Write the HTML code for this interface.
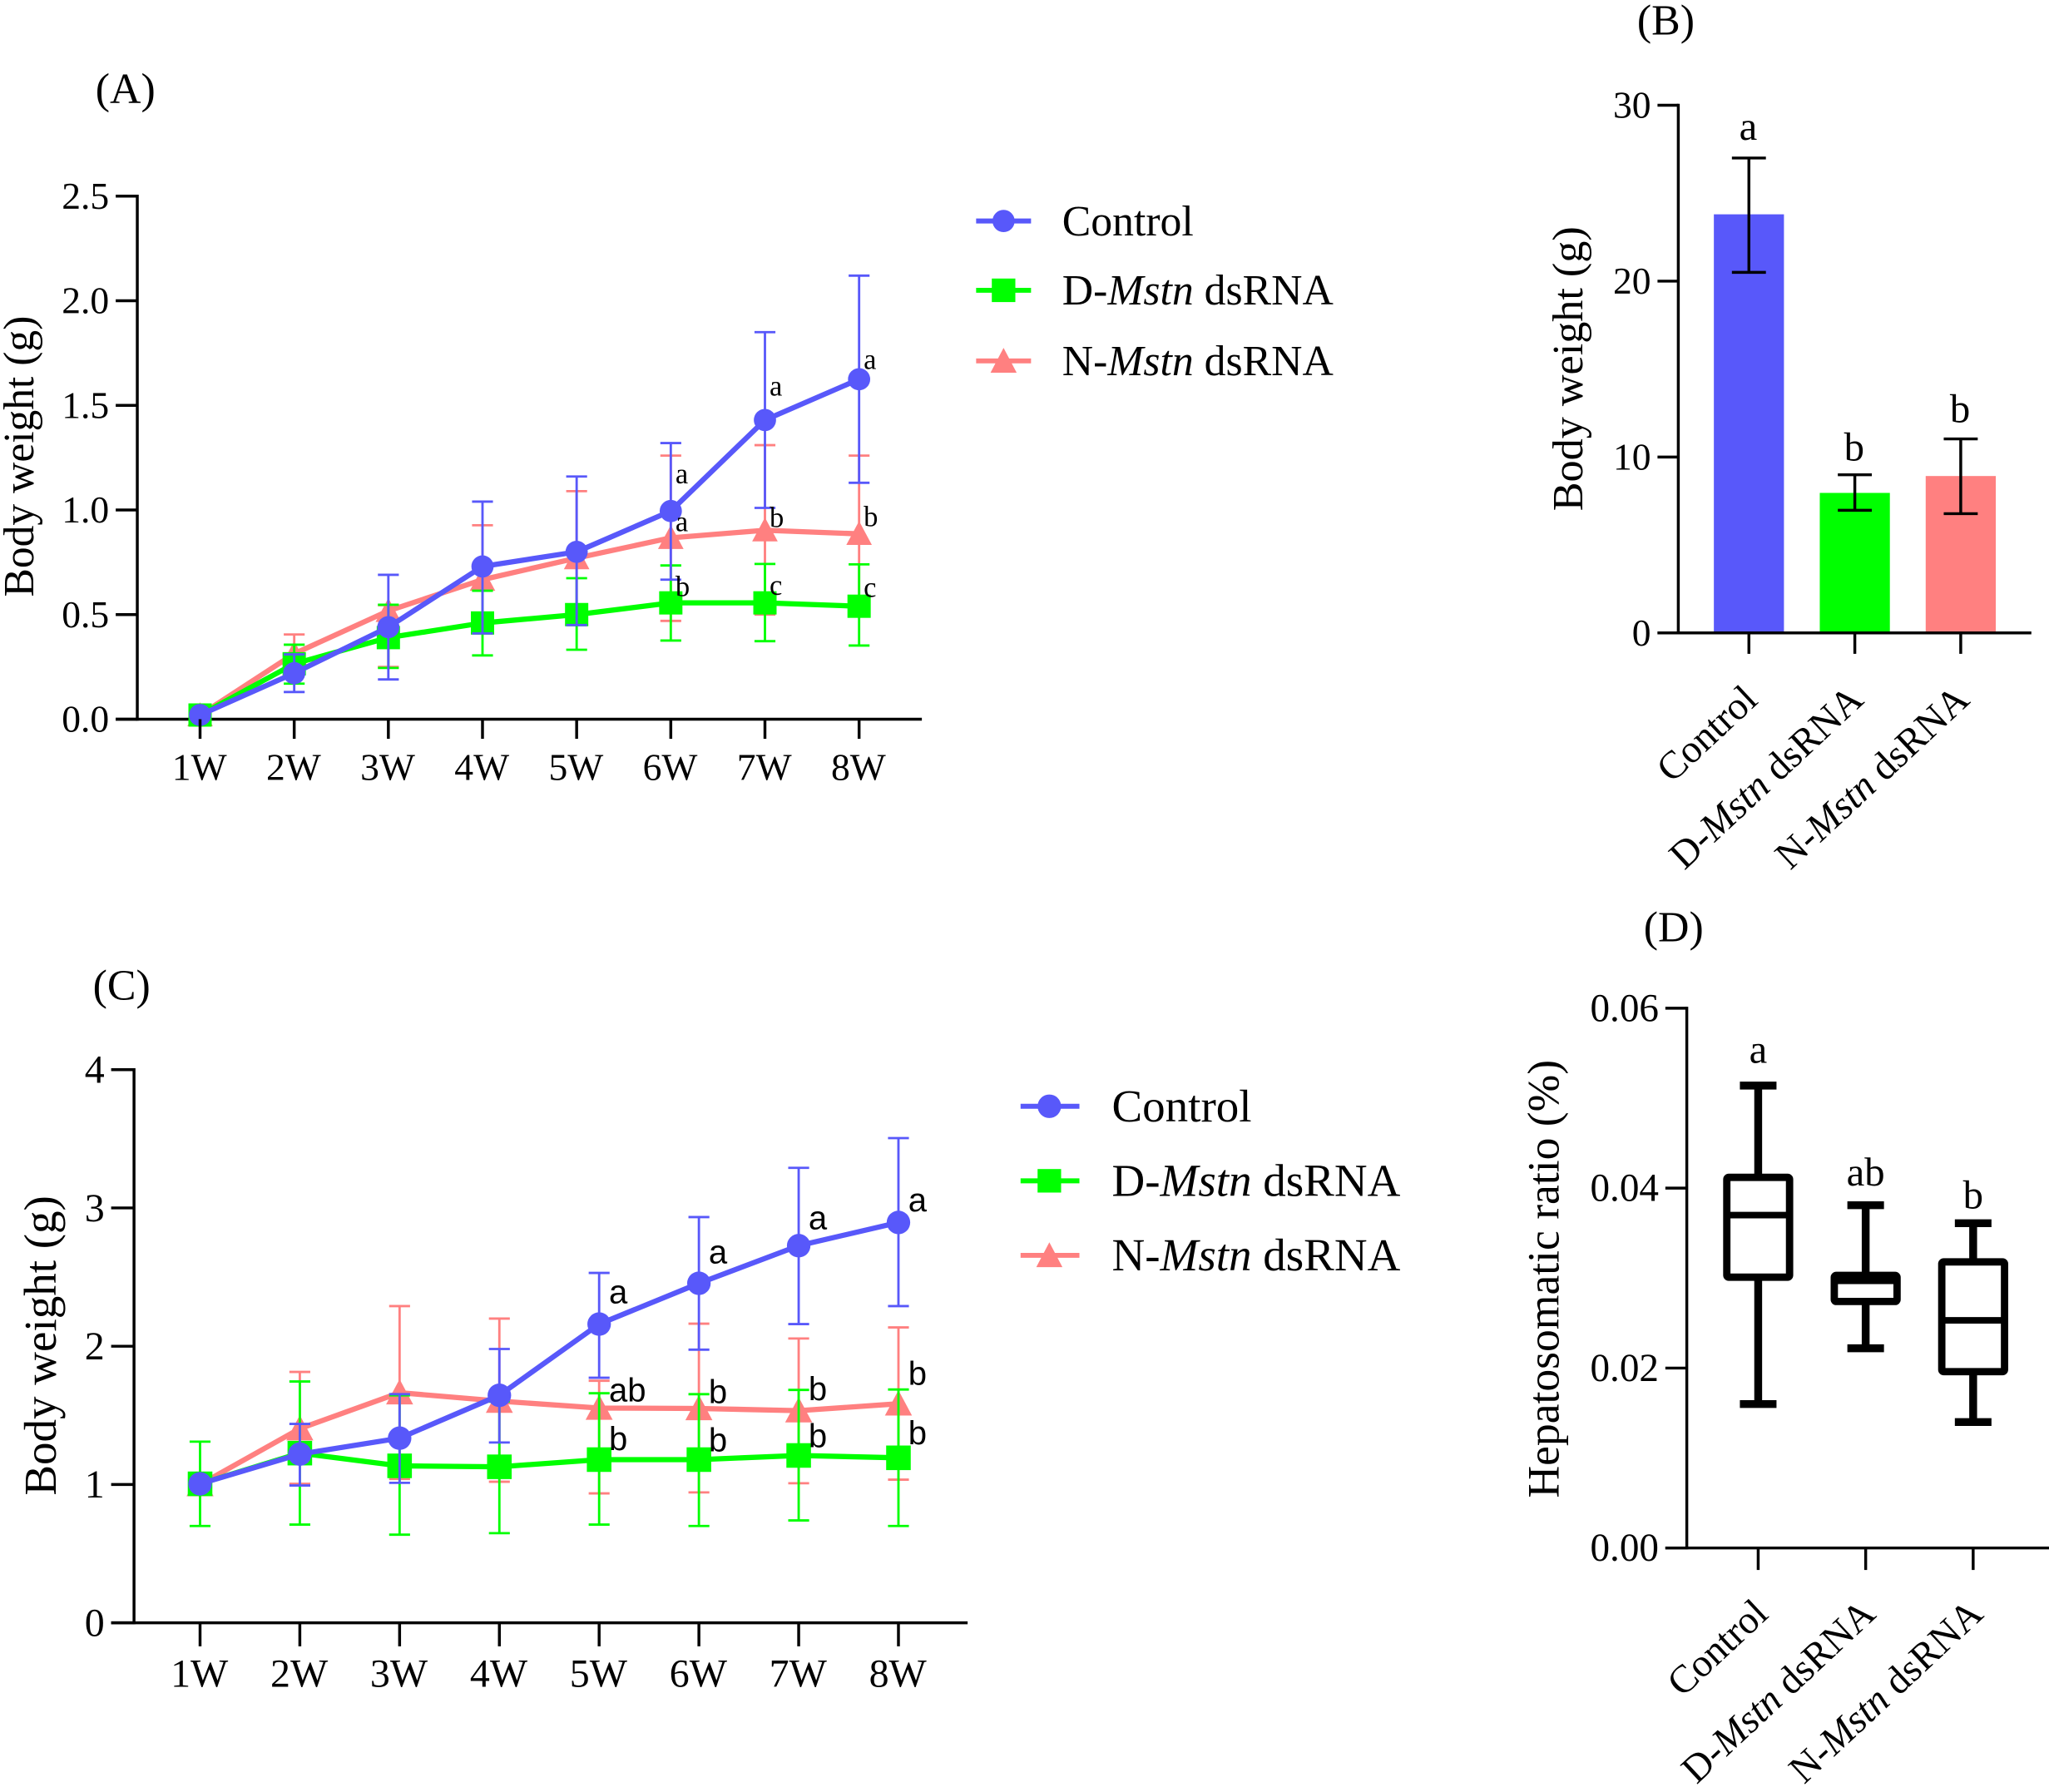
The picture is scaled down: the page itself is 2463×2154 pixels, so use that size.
<!DOCTYPE html>
<html lang="en">
<head>
<meta charset="utf-8">
<title>Body weight and hepatosomatic ratio charts</title>
<style>
html,body{margin:0;padding:0;background:#fff;width:2463px;height:2154px;overflow:hidden}
svg{display:block}
text{font-family:"Liberation Serif",serif;fill:#000}
.sans{font-family:"Liberation Sans",sans-serif}
</style>
</head>
<body>
<svg id="figure" xmlns="http://www.w3.org/2000/svg" width="2463" height="2154" viewBox="0 0 1567 1370.4">
  <rect width="1567" height="1370.4" fill="#fff"/>
  <text x="73" y="79" font-size="33">(A)</text>
  <text x="1252" y="26.5" font-size="33">(B)</text>
  <text x="71" y="764.5" font-size="33">(C)</text>
  <text x="1257" y="720" font-size="33">(D)</text>

  <text transform="translate(25.5,349) rotate(-90)" text-anchor="middle" font-size="32.8">Body weight (g)</text>
  <text transform="translate(1210,282) rotate(-90)" text-anchor="middle" font-size="33.2">Body weight (g)</text>
  <text transform="translate(42.5,1029) rotate(-90)" text-anchor="middle" font-size="35">Body weight (g)</text>
  <text transform="translate(1192,978) rotate(-90)" text-anchor="middle" font-size="34.1">Hepatosomatic ratio (%)</text>

  <g>
    <g>
      <line x1="746.5" x2="788.5" y1="169" y2="169" stroke="#5858fa" stroke-width="3.8"/>
      <circle cx="767.5" cy="169" r="8.5" fill="#5858fa"/>
      <text x="812.3" y="180" font-size="32.9">Control</text>
    </g>
    <g>
      <line x1="746.5" x2="788.5" y1="222" y2="222" stroke="#00ff00" stroke-width="3.8"/>
      <rect x="758.5" y="213" width="18" height="18" fill="#00ff00"/>
      <text x="812.3" y="233" font-size="32.9">D-<tspan font-style="italic">Mstn</tspan> dsRNA</text>
    </g>
    <g>
      <line x1="746.5" x2="788.5" y1="276" y2="276" stroke="#ff8080" stroke-width="3.8"/>
      <polygon points="767.5,266 777.5,285 757.5,285" fill="#ff8080"/>
      <text x="812.3" y="287" font-size="32.9">N-<tspan font-style="italic">Mstn</tspan> dsRNA</text>
    </g>
  </g>
  <g>
    <g>
      <line x1="780.5" x2="825.5" y1="846" y2="846" stroke="#5858fa" stroke-width="3.8"/>
      <circle cx="802.5" cy="846" r="9" fill="#5858fa"/>
      <text x="850.3" y="857.5" font-size="35">Control</text>
    </g>
    <g>
      <line x1="780.5" x2="825.5" y1="903" y2="903" stroke="#00ff00" stroke-width="3.8"/>
      <rect x="793.5" y="894" width="18" height="18" fill="#00ff00"/>
      <text x="850.3" y="914.5" font-size="35">D-<tspan font-style="italic">Mstn</tspan> dsRNA</text>
    </g>
    <g>
      <line x1="780.5" x2="825.5" y1="960" y2="960" stroke="#ff8080" stroke-width="3.8"/>
      <polygon points="802.5,950 812.5,969 792.5,969" fill="#ff8080"/>
      <text x="850.3" y="971.5" font-size="35">N-<tspan font-style="italic">Mstn</tspan> dsRNA</text>
    </g>
  </g>
</svg>
<script>
// Shared categories
const weekLabels = ['1W','2W','3W','4W','5W','6W','7W','8W'];
const groupPrefix = ['Control','D-','N-'];
const groupItalic = ['','Mstn','Mstn'];
const groupSuffix = ['',' dsRNA',' dsRNA'];

// Panel A values
const aTicks = [0,0.5,1,1.5,2,2.5];
const aTickLabels = ['0.0','0.5','1.0','1.5','2.0','2.5'];
const aControlMean = [0.02,0.22,0.44,0.73,0.80,0.995,1.43,1.625];
const aControlHigh = [0.02,0.31,0.69,1.04,1.16,1.32,1.85,2.12];
const aControlLow  = [0.02,0.13,0.19,0.41,0.45,0.667,1.01,1.13];
const aGreenMean = [0.02,0.265,0.39,0.46,0.50,0.556,0.556,0.54];
const aGreenHigh = [0.02,0.356,0.547,0.614,0.674,0.735,0.742,0.74];
const aGreenLow  = [0.02,0.17,0.245,0.305,0.332,0.376,0.373,0.352];
const aSalmonMean = [0.02,0.313,0.518,0.667,0.77,0.867,0.903,0.886];
const aSalmonHigh = [0.02,0.405,0.545,0.927,1.09,1.26,1.31,1.26];
const aSalmonLow  = [0.02,0.22,0.25,0.41,0.45,0.47,0.50,0.50];
const aControlLetters = ['','','','','','a','a','a'];
const aControlLetterAt = [0,0,0,0,0,1.127,1.546,1.674];
const aGreenLetters = ['','','','','','b','c','c'];
const aGreenLetterAt = [0,0,0,0,0,0.588,0.595,0.585];
const aSalmonLetters = ['','','','','','a','b','b'];
const aSalmonLetterAt = [0,0,0,0,0,0.898,0.918,0.922];

// Panel C values
const cTicks = [0,1,2,3,4];
const cTickLabels = ['0','1','2','3','4'];
const cControlMean = [1.005,1.22,1.335,1.645,2.16,2.455,2.727,2.895];
const cControlHigh = [1.005,1.438,1.653,1.98,2.53,2.934,3.29,3.505];
const cControlLow  = [1.005,0.993,1.012,1.304,1.772,1.975,2.16,2.29];
const cGreenMean = [1.005,1.227,1.135,1.128,1.18,1.18,1.21,1.193];
const cGreenHigh = [1.31,1.745,1.645,1.6,1.66,1.653,1.684,1.687];
const cGreenLow  = [0.70,0.71,0.637,0.648,0.71,0.70,0.74,0.70];
const cSalmonMean = [1.0,1.404,1.664,1.603,1.553,1.55,1.534,1.584];
const cSalmonHigh = [1.0,1.814,2.29,2.2,1.75,2.163,2.056,2.136];
const cSalmonLow  = [1.0,1.005,1.04,1.02,0.936,0.943,1.009,1.035];
const cControlLetters = ['','','','','a','a','a','a'];
const cControlLetterAt = [0,0,0,0,2.31,2.60,2.845,2.976];
const cGreenLetters = ['','','','','b','b','b','b'];
const cGreenLetterAt = [0,0,0,0,1.25,1.24,1.27,1.29];
const cSalmonLetters = ['','','','','ab','b','b','b'];
const cSalmonLetterAt = [0,0,0,0,1.60,1.588,1.61,1.72];

// Panel B values
const bTicks = [0,10,20,30];
const bTickLabels = ['0','10','20','30'];
const bMeans = [23.8,7.96,8.92];
const bHigh = [27.0,8.99,11.03];
const bLow = [20.5,6.97,6.78];
const bLetters = ['a','b','b'];
const bLetterAt = [28.05,9.81,11.98];

// Panel D values
const dTicks = [0,0.02,0.04,0.06];
const dTickLabels = ['0.00','0.02','0.04','0.06'];
const dWhiskerHigh = [0.0514,0.0381,0.0361];
const dQ3 = [0.0412,0.0303,0.0318];
const dMedian = [0.037,0.0297,0.0253];
const dQ1 = [0.0301,0.0274,0.0196];
const dWhiskerLow = [0.016,0.0222,0.014];
const dLetters = ['a','ab','b'];
const dLetterAt = [0.05395,0.0403,0.03776];

const BLUE = '#5858fa', GREEN = '#00ff00', SALMON = '#ff8080';
const NS = 'http://www.w3.org/2000/svg';
const fig = document.getElementById('figure');

function mk(parent, tag, attrs, txt) {
  const n = document.createElementNS(NS, tag);
  for (const k in attrs) n.setAttribute(k, attrs[k]);
  if (txt !== undefined) n.textContent = txt;
  parent.appendChild(n);
  return n;
}
function seg(parent, x1, y1, x2, y2, color, w) {
  return mk(parent, 'line', {x1, y1, x2, y2, stroke: color, 'stroke-width': w});
}

function drawAxes(name, box, yScale, ticks, labels, fontSize) {
  const g = mk(fig, 'g', {});
  
  
  seg(g, box.x0, yScale(ticks[ticks.length - 1]) - 1.1, box.x0, box.y0 + 1.1, '#000', 2.2);
  seg(g, box.tickLeft, box.y0, box.x1, box.y0, '#000', 2.2);
  ticks.forEach((t, i) => {
    const tickMark = seg(g, box.tickLeft, yScale(t), box.x0, yScale(t), '#000', 2.2);
    
    
    const lab = mk(g, 'text', {x: box.tickLeft - 5, y: yScale(t) + fontSize * 0.33, 'text-anchor': 'end', 'font-size': fontSize}, labels[i]);
    
    
  });
}

function drawLinePanel(name, box, xScale, yScale, series, catBase, catSize, letterSize, letterClass, letterDx, capHalf, markerR) {
  series.forEach(s => {
    const g = mk(fig, 'g', {});
    
    
    s.mean.forEach((v, i) => {
      const x = xScale(i);
      const e = mk(g, 'g', {});
      
      
      seg(e, x, yScale(s.high[i]), x, yScale(s.low[i]), s.color, 1.8);
      seg(e, x - capHalf, yScale(s.high[i]), x + capHalf, yScale(s.high[i]), s.color, 1.8);
      seg(e, x - capHalf, yScale(s.low[i]), x + capHalf, yScale(s.low[i]), s.color, 1.8);
    });
    const pts = s.mean.map((v, i) => xScale(i) + ',' + yScale(v)).join(' ');
    const line = mk(g, 'polyline', {points: pts, fill: 'none', stroke: s.color, 'stroke-width': 4, 'stroke-linejoin': 'round'});
    
    
    s.mean.forEach((v, i) => {
      const x = xScale(i), y = yScale(v);
      let m;
      if (s.shape === 'circle') m = mk(g, 'circle', {cx: x, cy: y, r: markerR, fill: s.color});
      else if (s.shape === 'square') m = mk(g, 'rect', {x: x - markerR - 0.4, y: y - markerR - 0.4, width: markerR * 2 + 0.8, height: markerR * 2 + 0.8, fill: s.color});
      else m = mk(g, 'polygon', {points: x + ',' + (y - markerR * 1.15) + ' ' + (x + markerR * 1.15) + ',' + (y + markerR) + ' ' + (x - markerR * 1.15) + ',' + (y + markerR), fill: s.color});
      
      
    });
  });
  series.forEach(s => {
    s.letters.forEach((t, i) => {
      if (!t) return;
      const lab = mk(fig, 'text', {x: xScale(i) + letterDx, y: yScale(s.letterAt[i]), 'font-size': letterSize, 'class': letterClass}, t);
      
      
    });
  });
  const gx = mk(fig, 'g', {});
  
  
  weekLabels.forEach((w, i) => {
    seg(gx, xScale(i), box.y0, xScale(i), box.tickBottom, '#000', 2.2);
    const lab = mk(gx, 'text', {x: xScale(i) - 0.5, y: catBase, 'text-anchor': 'middle', 'font-size': catSize}, w);
    
    
  });
}

function drawGroupLabels(name, xScale, box, dx, baseY, size, angle) {
  groupPrefix.forEach((p, i) => {
    seg(fig, xScale(i), box.y0, xScale(i), box.tickBottom, '#000', 2.2);
    const t = mk(fig, 'text', {transform: 'translate(' + (xScale(i) + dx) + ',' + baseY + ') rotate(' + angle + ')', 'text-anchor': 'end', 'font-size': size});
    
    
    mk(t, 'tspan', {}, p);
    if (groupItalic[i]) mk(t, 'tspan', {'font-style': 'italic'}, groupItalic[i]);
    if (groupSuffix[i]) mk(t, 'tspan', {}, groupSuffix[i]);
  });
}

// Panel A
(function () {
  const box = {x0: 105, x1: 705, y0: 550, tickLeft: 88.5, tickBottom: 565};
  const xA = i => 153 + 72 * i;
  const yA = v => 550 - (v / 2.5) * 400;
  drawAxes('panel-a', box, yA, aTicks, aTickLabels, 29);
  drawLinePanel('panel-a', box, xA, yA, [
    {key: 'n-mstn', color: SALMON, shape: 'tri', mean: aSalmonMean, high: aSalmonHigh, low: aSalmonLow, letters: aSalmonLetters, letterAt: aSalmonLetterAt},
    {key: 'd-mstn', color: GREEN, shape: 'square', mean: aGreenMean, high: aGreenHigh, low: aGreenLow, letters: aGreenLetters, letterAt: aGreenLetterAt},
    {key: 'control', color: BLUE, shape: 'circle', mean: aControlMean, high: aControlHigh, low: aControlLow, letters: aControlLetters, letterAt: aControlLetterAt}
  ], 596.5, 29, 22, '', 3.5, 8, 8.5);
})();

// Panel C
(function () {
  const box = {x0: 102.5, x1: 740, y0: 1241, tickLeft: 85, tickBottom: 1259};
  const xC = i => 153 + 76.3 * i;
  const yC = v => 1241 - (v / 4) * 423;
  drawAxes('panel-c', box, yC, cTicks, cTickLabels, 30.5);
  drawLinePanel('panel-c', box, xC, yC, [
    {key: 'n-mstn', color: SALMON, shape: 'tri', mean: cSalmonMean, high: cSalmonHigh, low: cSalmonLow, letters: cSalmonLetters, letterAt: cSalmonLetterAt},
    {key: 'd-mstn', color: GREEN, shape: 'square', mean: cGreenMean, high: cGreenHigh, low: cGreenLow, letters: cGreenLetters, letterAt: cGreenLetterAt},
    {key: 'control', color: BLUE, shape: 'circle', mean: cControlMean, high: cControlHigh, low: cControlLow, letters: cControlLetters, letterAt: cControlLetterAt}
  ], 1290, 30.5, 25.5, 'sans', 7.5, 8, 9);
})();

// Panel B
(function () {
  const box = {x0: 1283.5, x1: 1553.5, y0: 484, tickLeft: 1267.6, tickBottom: 500};
  const xB = i => 1337.5 + 81 * i;
  const yB = v => 484 - (v / 30) * 403.5;
  const colors = [BLUE, GREEN, SALMON];
  const keys = ['control', 'd-mstn', 'n-mstn'];
  bMeans.forEach((v, i) => {
    const bar = mk(fig, 'rect', {x: xB(i) - 26.8, y: yB(v), width: 53.6, height: 484 - yB(v), fill: colors[i]});
    
    
    const err = mk(fig, 'g', {});
    
    
    seg(err, xB(i), yB(bHigh[i]), xB(i), yB(bLow[i]), '#000', 2.2);
    seg(err, xB(i) - 13, yB(bHigh[i]), xB(i) + 13, yB(bHigh[i]), '#000', 2.2);
    seg(err, xB(i) - 13, yB(bLow[i]), xB(i) + 13, yB(bLow[i]), '#000', 2.2);
    const lab = mk(fig, 'text', {x: xB(i) - 0.5, y: yB(bLetterAt[i]), 'text-anchor': 'middle', 'font-size': 31}, bLetters[i]);
    
    
  });
  drawAxes('panel-b', box, yB, bTicks, bTickLabels, 29);
  drawGroupLabels('panel-b', xB, box, 8, 537, 30, -43);
})();

// Panel D
(function () {
  const box = {x0: 1290, x1: 1567, y0: 1183.8, tickLeft: 1273.6, tickBottom: 1200.6};
  const xD = i => 1344.6 + 82.2 * i;
  const yD = v => 1183.8 - (v / 0.06) * 412.8;
  const keys = ['control', 'd-mstn', 'n-mstn'];
  drawAxes('panel-d', box, yD, dTicks, dTickLabels, 30);
  dMedian.forEach((v, i) => {
    const x = xD(i);
    const g = mk(fig, 'g', {});
    
    
    seg(g, x, yD(dWhiskerHigh[i]), x, yD(dQ3[i]), '#000', 6);
    seg(g, x, yD(dQ1[i]), x, yD(dWhiskerLow[i]), '#000', 6);
    seg(g, x - 14, yD(dWhiskerHigh[i]), x + 14, yD(dWhiskerHigh[i]), '#000', 6);
    seg(g, x - 14, yD(dWhiskerLow[i]), x + 14, yD(dWhiskerLow[i]), '#000', 6);
    mk(g, 'rect', {x: x - 24, y: yD(dQ3[i]), width: 48, height: yD(dQ1[i]) - yD(dQ3[i]), fill: 'none', stroke: '#000', 'stroke-width': 5.6, rx: 1.5});
    seg(g, x - 24, yD(v), x + 24, yD(v), '#000', 5);
    const lab = mk(fig, 'text', {x: x, y: yD(dLetterAt[i]), 'text-anchor': 'middle', 'font-size': 31}, dLetters[i]);
    
    
  });
  drawGroupLabels('panel-d', xD, box, 9, 1236, 30, -43);
})();
</script>
</body>
</html>
